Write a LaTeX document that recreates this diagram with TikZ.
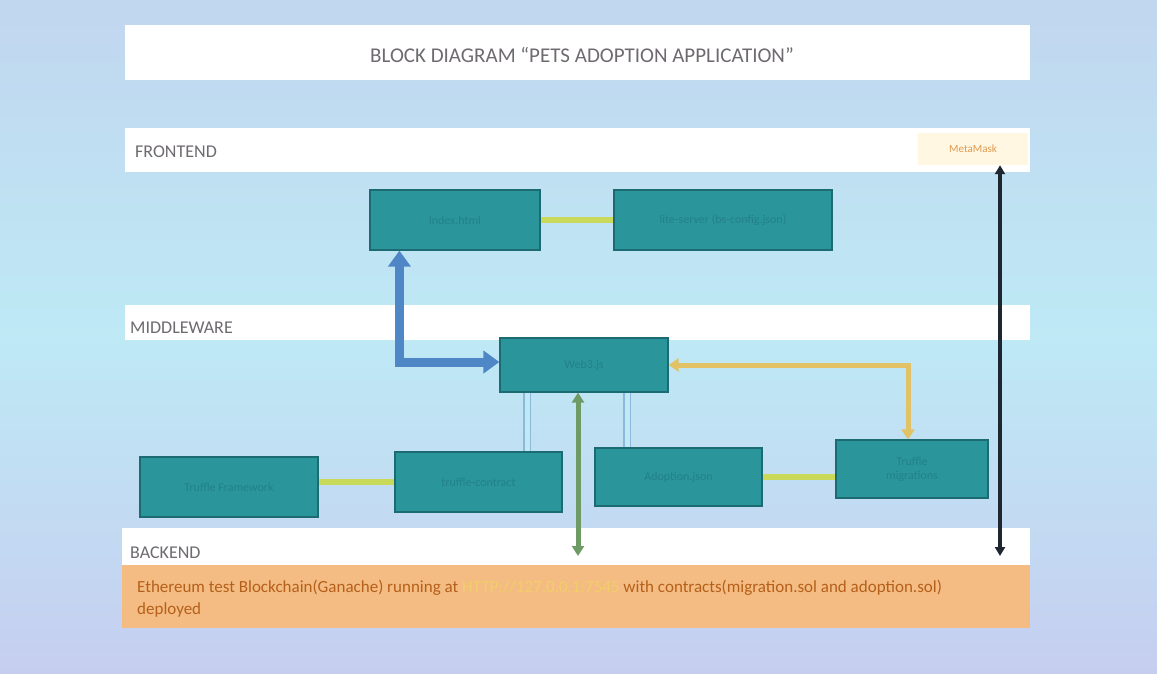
\documentclass[tikz,border=0pt]{standalone}
\usepackage{fontspec}
\setmainfont{Carlito}
\usetikzlibrary{arrows.meta}
\definecolor{bgtop}{HTML}{C1D6EF}
\definecolor{bgmid}{HTML}{BEE9F5}
\definecolor{bgbot}{HTML}{C6CEF0}
\definecolor{boxfill}{HTML}{2A959B}
\definecolor{boxline}{HTML}{1C6B73}
\definecolor{boxtext}{HTML}{22818A}
\definecolor{linkyg}{HTML}{C9D95A}
\definecolor{bluear}{HTML}{4F86C6}
\definecolor{goldar}{HTML}{E2C266}
\definecolor{greenar}{HTML}{6E9A66}
\definecolor{darkar}{HTML}{1E2730}
\definecolor{dblcol}{HTML}{8DB8DA}
\definecolor{labgray}{HTML}{6E6A70}
\definecolor{orangebar}{HTML}{F4BC82}
\definecolor{orangetext}{HTML}{B5601A}
\definecolor{linktext}{HTML}{F2CE6A}
\definecolor{mmfill}{HTML}{FFF7E2}
\definecolor{mmtext}{HTML}{E09A50}
\tikzset{
  bar/.style={draw=none, fill=white, minimum width=905pt, inner sep=0pt},
  barlabel/.style={anchor=west, text=labgray, font=\fontsize{18}{20}\selectfont, inner sep=0pt},
  block/.style={draw=boxline, line width=1.2pt, fill=boxfill, inner sep=2pt, text=boxtext, font=\fontsize{12}{14}\selectfont, align=center},
  ygline/.style={draw=linkyg, line width=6pt},
  bluearrow/.style={draw=bluear, line width=9pt, {Triangle[length=16pt,width=22pt]}-{Triangle[length=16pt,width=22pt]}},
  goldarrow/.style={draw=goldar, line width=5pt, {Triangle[length=10pt,width=13pt]}-{Triangle[length=10pt,width=13pt]}},
  greenarrow/.style={draw=greenar, line width=5pt, {Triangle[length=10pt,width=12pt]}-{Triangle[length=10pt,width=12pt]}},
  darkarrow/.style={draw=darkar, line width=3.5pt, {Triangle[length=9pt,width=10pt]}-{Triangle[length=9pt,width=10pt]}},
  dblline/.style={draw=dblcol, line width=1.2pt, double=bgmid, double distance=5pt},
  otext/.style={anchor=west, inner sep=0pt, text=orangetext, font=\fontsize{17}{20}\selectfont}
}
\begin{document}
\begin{tikzpicture}[x=1pt,y=-1pt]
\useasboundingbox (0,0) rectangle (1157,673);
\shade[top color=bgtop, bottom color=bgbot, middle color=bgmid] (0,0) rectangle (1157,673);

% bars
\node[bar, minimum height=55pt] (title) at (577.5,52.5) {};
\node[text=labgray, font=\fontsize{21}{23}\selectfont, inner sep=0pt] (titletext) at (582,55) {BLOCK DIAGRAM “PETS ADOPTION APPLICATION”};
\node[bar, minimum height=44pt] (frontbar) at (577.5,150) {};
\node[barlabel] (frontlabel) at (135,152) {FRONTEND};
\node[draw=none, fill=mmfill, minimum width=110pt, minimum height=32pt, text=mmtext, font=\fontsize{11}{13}\selectfont] (metamask) at (973,149) {MetaMask};
\node[bar, minimum height=35pt] (midbar) at (577.5,322.5) {};
\node[barlabel] (midlabel) at (130,328) {MIDDLEWARE};
\node[bar, minimum width=908pt, minimum height=37pt] (backbar) at (576,546.5) {};
\node[barlabel] (backlabel) at (130,553) {BACKEND};
\node[draw=none, fill=orangebar, minimum width=908pt, minimum height=63pt] (orange) at (576,596.5) {};
\node[otext] (otext1) at (137,588) {Ethereum test Blockchain(Ganache) running at \textcolor{linktext}{HTTP://127.0.0.1:7545} with contracts(migration.sol and adoption.sol)};
\node[otext] (otext2) at (137,610) {deployed};

% blocks
\node[block, minimum width=170pt, minimum height=60pt] (boxA) at (455,220) {index.html};
\node[block, minimum width=218pt, minimum height=60pt] (boxB) at (723,220) {lite-server (bs-config.json)};
\node[block, minimum width=168pt, minimum height=54pt] (web3) at (584,365) {Web3.js};
\node[block, minimum width=178pt, minimum height=60pt] (c1) at (229,487) {Truffle Framework};
\node[block, minimum width=167pt, minimum height=60pt] (c2) at (478.5,482) {truffle-contract};
\node[block, minimum width=167pt, minimum height=58pt] (c3) at (678.5,477) {Adoption.json};
\node[block, minimum width=152pt, minimum height=58pt] (c4) at (912,469) {Truffle\\ migrations};

\coordinate (greenend) at (578,556);
\coordinate (darkend) at (1000,556);

% connectors
\draw[ygline] (boxA.east) -- (boxB.west);
\draw[ygline] (c1.east |- c2.west) -- (c2.west);
\draw[ygline] (c3.east) -- (c3.east -| c4.west);
\draw[bluearrow] ([yshift=3pt]web3.west) -| ([xshift=30pt]boxA.south west);
\draw[goldarrow] (web3.east) -| ([xshift=-4pt]c4.north);
\draw[dblline] ([xshift=-57pt]web3.south) -- ([xshift=-57pt]web3.south |- c2.north);
\draw[dblline] ([xshift=43pt]web3.south) -- ([xshift=43pt]web3.south |- c3.north);
\draw[greenarrow] ([xshift=-6pt]web3.south) -- (greenend);
\draw[darkarrow] ([xshift=27pt]metamask.south) -- (darkend);
\end{tikzpicture}
\end{document}
